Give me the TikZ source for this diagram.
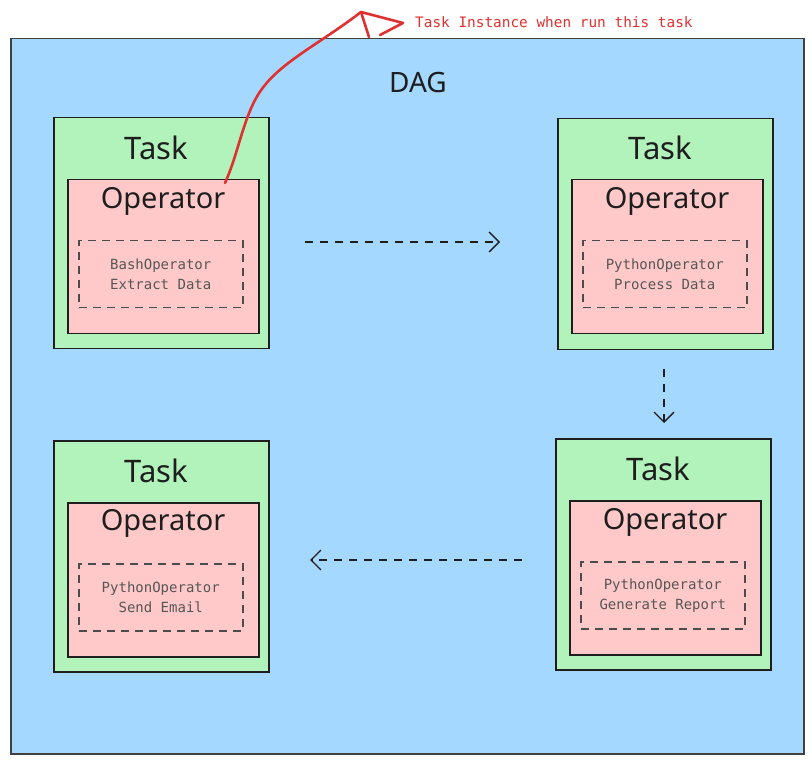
\documentclass[tikz,border=0pt]{standalone}
\usepackage{fontspec}
\setmainfont{DejaVu Sans}
\newfontfamily\monof{DejaVu Sans Mono}
\newfontfamily\handf{Noto Sans}
\usetikzlibrary{arrows.meta}
\definecolor{dagblue}{HTML}{A5D8FF}
\definecolor{taskgreen}{HTML}{B2F2BB}
\definecolor{oppink}{HTML}{FFC9C9}
\definecolor{ink}{HTML}{1E1E1E}
\definecolor{redink}{HTML}{E03131}
\tikzset{
  dagbox/.style={draw=ink!85, line width=1.5pt, fill=dagblue, minimum width=793pt, minimum height=715pt, anchor=north west, inner sep=0pt},
  taskbox/.style={draw=ink, line width=1.5pt, fill=taskgreen, minimum width=215pt, minimum height=231pt, anchor=north west, inner sep=0pt},
  opbox/.style={draw=ink, line width=1.5pt, fill=oppink, minimum width=191pt, minimum height=154pt, anchor=north west, inner sep=0pt},
  implbox/.style={draw=ink!80, line width=1.5pt, dash pattern=on 8pt off 6pt, minimum width=164pt, minimum height=67pt, anchor=north west, inner sep=0pt, align=center, font=\monof\fontsize{14}{20}\selectfont, text=ink!75},
  tasktitle/.style={font=\handf\fontsize{31}{34}\selectfont, text=ink},
  optitle/.style={font=\handf\fontsize{29}{34}\selectfont, text=ink},
  flow/.style={draw=ink, line width=1.3pt, dash pattern=on 8pt off 7pt, -{Straight Barb[length=10pt, width=20pt, line width=1.3pt]}},
}
\begin{document}
\begin{tikzpicture}[x=1pt, y=-1pt]
\useasboundingbox (0,0) rectangle (812,762);
\fill[white] (0,0) rectangle (812,762);
\node[dagbox] (dag) at (10,38) {};
\node[font=\handf\fontsize{28}{30}\selectfont, text=ink] (dagtitle) at (418,83) {DAG};

% Task 1
\node[taskbox] (t1) at (53,117) {};
\node[tasktitle] (t1t) at (156,148) {Task};
\node[opbox] (o1) at (67,179) {};
\node[optitle] (o1t) at (163,201) {Operator};
\node[implbox] (i1) at (78,240) {BashOperator\\Extract Data};

% Task 2
\node[taskbox] (t2) at (557,118) {};
\node[tasktitle] (t2t) at (660,148) {Task};
\node[opbox] (o2) at (571,179) {};
\node[optitle] (o2t) at (667,201) {Operator};
\node[implbox] (i2) at (582,240) {PythonOperator\\Process Data};

% Task 3
\node[taskbox] (t3) at (555,438) {};
\node[tasktitle] (t3t) at (658,469) {Task};
\node[opbox] (o3) at (569,500) {};
\node[optitle] (o3t) at (665,522) {Operator};
\node[implbox] (i3) at (580,561) {PythonOperator\\Generate Report};

% Task 4
\node[taskbox] (t4) at (53,440) {};
\node[tasktitle] (t4t) at (156,471) {Task};
\node[opbox] (o4) at (67,502) {};
\node[optitle] (o4t) at (163,523) {Operator};
\node[implbox] (i4) at (78,563) {PythonOperator\\Send Email};

% Flow arrows
\coordinate (a1s) at (305,242);
\coordinate (a1e) at (500,242);
\draw[flow] (a1s) -- (a1e);
\coordinate (a2s) at (664,369);
\coordinate (a2e) at (664,423);
\draw[flow] (a2s) -- (a2e);
\coordinate (a3s) at (522,560);
\coordinate (a3e) at (310,560);
\draw[flow] (a3s) -- (a3e);

% Red annotation
\coordinate (rs) at (225,183);
\coordinate (rtip) at (361,12);
\coordinate (rh1) at (369,37);
\coordinate (rh2) at (403,23);
\coordinate (rh3) at (380,35);
\draw[redink, line width=2.6pt, line cap=round, line join=round]
  (rs) .. controls (240,150) and (244,110) .. (265,85)
       .. controls (285,60) and (325,40) .. (rtip);
\draw[redink, line width=2.6pt, line cap=round, line join=round]
  (rh1) -- (rtip) -- (rh2) -- (rh3);
\node[font=\monof\fontsize{14.4}{16}\selectfont, text=redink, anchor=west, inner sep=0pt] (lbl) at (415,22) {Task Instance when run this task};
\end{tikzpicture}
\end{document}
